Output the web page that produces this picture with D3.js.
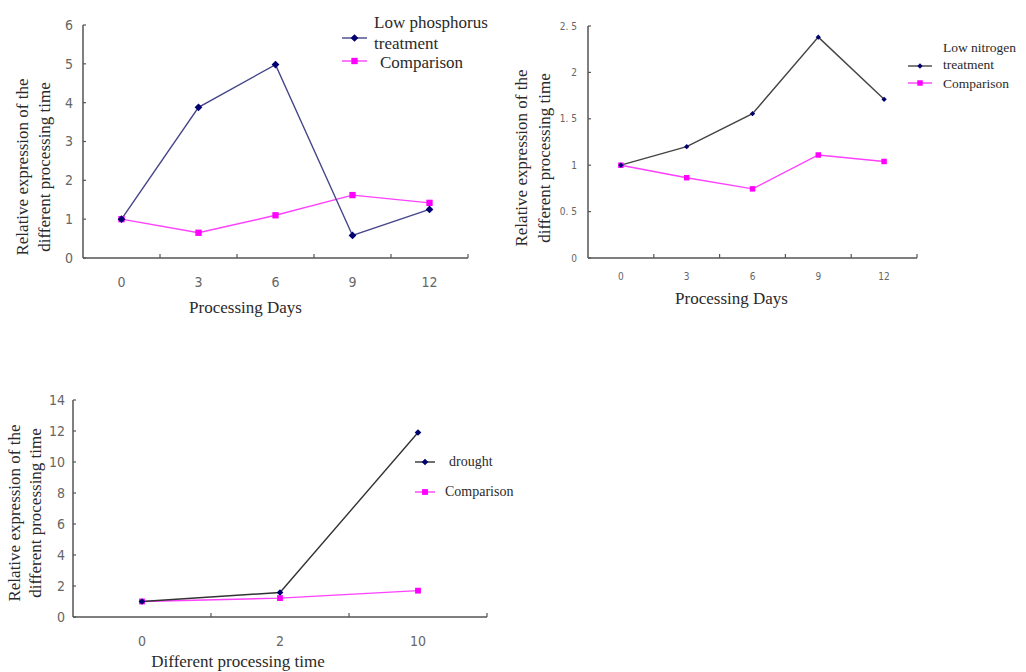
<!DOCTYPE html>
<html>
<head>
<meta charset="utf-8">
<script src="https://cdn.jsdelivr.net/npm/d3@7"></script>
<style>
  body { margin: 0; background: #fff; }
  svg { display: block; }
  .tick-lbl { font-family: "DejaVu Sans Condensed", "Liberation Sans Narrow", sans-serif; fill: #666; }
  .serif { font-family: "Liberation Serif", "DejaVu Serif", serif; fill: #2a2a2a; }
</style>
</head>
<body>
<div id="chart"></div>
<script>
// chart 1: low phosphorus
const daysP = ['0', '3', '6', '9', '12'];
const lowPhosphorus = [1.0, 3.88, 4.98, 0.58, 1.25];
const comparisonP = [1.0, 0.65, 1.1, 1.62, 1.42];
const yTicksP = [0, 1, 2, 3, 4, 5, 6];

// chart 2: low nitrogen
const daysN = ['0', '3', '6', '9', '12'];
const lowNitrogen = [1.0, 1.2, 1.555, 2.38, 1.71];
const comparisonN = [1.0, 0.865, 0.745, 1.11, 1.04];
const yTicksN = [0, 0.5, 1, 1.5, 2, 2.5];

// chart 3: drought
const timesD = ['0', '2', '10'];
const drought = [1.0, 1.58, 11.9];
const comparisonD = [1.0, 1.22, 1.7];
const yTicksD = [0, 2, 4, 6, 8, 10, 12, 14];

const svg = d3.select('#chart').append('svg')
  .attr('width', 1026)
  .attr('height', 672);

// diamond = square turned 45 degrees
const square = d3.symbol().type(d3.symbolSquare);

function drawChart(cfg) {
  const g = svg.append('g');
  const x = d3.scaleBand().domain(cfg.cats).range([cfg.left, cfg.right]);
  const y = d3.scaleLinear().domain([0, d3.max(cfg.yTicks)]).range([cfg.bottom, cfg.top]);

  // y axis
  g.append('line')
    .attr('x1', cfg.left).attr('x2', cfg.left)
    .attr('y1', cfg.top).attr('y2', cfg.bottom)
    .attr('stroke', '#555').attr('stroke-width', 1.5);
  g.selectAll('.ytick').data(cfg.yTicks).enter().append('line')
    .attr('x1', cfg.left).attr('x2', cfg.left + 3)
    .attr('y1', (d) => y(d)).attr('y2', (d) => y(d))
    .attr('stroke', '#555').attr('stroke-width', 1.2);
  g.selectAll('.ylbl').data(cfg.yTicks).enter().append('text')
    .attr('class', 'tick-lbl')
    .attr('x', cfg.left - cfg.yLblGap)
    .attr('y', (d) => y(d))
    .attr('dy', '0.35em')
    .attr('text-anchor', 'end')
    .attr('font-size', cfg.tickSize)
    .text((d) => cfg.fmt ? cfg.fmt(d) : d);

  // x axis, ticks between categories
  g.append('line')
    .attr('x1', cfg.left).attr('x2', cfg.right)
    .attr('y1', cfg.bottom).attr('y2', cfg.bottom)
    .attr('stroke', '#555').attr('stroke-width', 1.5);
  const edges = cfg.cats.slice(1).map((c) => x(c)).concat([cfg.right]);
  g.selectAll('.xtick').data(edges).enter().append('line')
    .attr('x1', (d) => d).attr('x2', (d) => d)
    .attr('y1', cfg.bottom).attr('y2', cfg.bottom - 4)
    .attr('stroke', '#555').attr('stroke-width', 1.2);
  g.selectAll('.xlbl').data(cfg.cats).enter().append('text')
    .attr('class', 'tick-lbl')
    .attr('x', (d) => x(d) + x.bandwidth() / 2)
    .attr('y', cfg.bottom + cfg.xLblGap)
    .attr('text-anchor', 'middle')
    .attr('font-size', cfg.tickSize)
    .text((d) => d);

  // titles
  g.append('text')
    .attr('class', 'serif')
    .attr('x', (cfg.left + cfg.right) / 2 + cfg.xTitleDx)
    .attr('y', cfg.xTitleY)
    .attr('text-anchor', 'middle')
    .attr('font-size', cfg.titleSize)
    .text(cfg.xTitle);
  ['Relative expression of the', 'different processing time'].forEach((t, i) => {
    g.append('text')
      .attr('class', 'serif')
      .attr('transform', `translate(${cfg.yTitleX[i]},${cfg.yTitleY}) rotate(-90)`)
      .attr('text-anchor', 'middle')
      .attr('font-size', cfg.titleSize)
      .text(t);
  });

  const cx = (d, i) => x(cfg.cats[i]) + x.bandwidth() / 2;
  const line = d3.line().x(cx).y((d) => y(d));

  // comparison first, treatment on top
  g.append('path').datum(cfg.comp)
    .attr('d', line).attr('fill', 'none')
    .attr('stroke', '#ff40ff').attr('stroke-width', 1.4);
  g.append('path').datum(cfg.treat)
    .attr('d', line).attr('fill', 'none')
    .attr('stroke', cfg.treatLine).attr('stroke-width', 1.4);
  g.selectAll('.mc').data(cfg.comp).enter().append('path')
    .attr('d', square.size(cfg.sqSize))
    .attr('transform', (d, i) => `translate(${cx(d, i)},${y(d)})`)
    .attr('fill', '#ff00ff');
  g.selectAll('.mt').data(cfg.treat).enter().append('path')
    .attr('d', square.size(cfg.dmSize))
    .attr('transform', (d, i) => `translate(${cx(d, i)},${y(d)}) rotate(45)`)
    .attr('fill', '#000070');

  // legend
  const lg = cfg.legend;
  [[lg.y1, cfg.treatLine, '#000070', cfg.dmSize, 45], [lg.y2, '#ff40ff', '#ff00ff', cfg.sqSize, 0]].forEach(([ly, lc, mc, sz, rot]) => {
    g.append('line')
      .attr('x1', lg.x).attr('x2', lg.x + lg.w)
      .attr('y1', ly).attr('y2', ly)
      .attr('stroke', lc).attr('stroke-width', 1.4);
    g.append('path')
      .attr('d', square.size(sz))
      .attr('transform', `translate(${lg.x + lg.w / 2},${ly}) rotate(${rot})`)
      .attr('fill', mc);
  });
  lg.texts.forEach((t) => {
    g.append('text')
      .attr('class', 'serif')
      .attr('x', t[0]).attr('y', t[1])
      .attr('dy', '0.35em')
      .attr('font-size', lg.size)
      .text(t[2]);
  });
}

drawChart({
  cats: daysP, treat: lowPhosphorus, comp: comparisonP, yTicks: yTicksP,
  left: 83, right: 468, top: 25, bottom: 258,
  tickSize: 14, yLblGap: 10, xLblGap: 29,
  xTitle: 'Processing Days', xTitleY: 313, xTitleDx: -30, titleSize: 17,
  yTitleX: [28, 50], yTitleY: 167,
  treatLine: '#45458a', dmSize: 30, sqSize: 40,
  legend: {
    x: 342, w: 25, y1: 38, y2: 61, size: 17,
    texts: [[374, 22, 'Low phosphorus'], [374, 43, 'treatment'], [380, 62, 'Comparison']]
  }
});

drawChart({
  cats: daysN, treat: lowNitrogen, comp: comparisonN, yTicks: yTicksN,
  left: 588, right: 917, top: 26, bottom: 258,
  tickSize: 10, yLblGap: 11, xLblGap: 22,
  fmt: (d) => String(d).replace('.', '. '),
  xTitle: 'Processing Days', xTitleY: 304, xTitleDx: -21, titleSize: 17,
  yTitleX: [527, 550], yTitleY: 158,
  treatLine: '#444', dmSize: 14, sqSize: 30,
  legend: {
    x: 908, w: 24, y1: 66, y2: 83, size: 13.5,
    texts: [[943, 47, 'Low nitrogen'], [943, 64, 'treatment'], [943, 83, 'Comparison']]
  }
});

drawChart({
  cats: timesD, treat: drought, comp: comparisonD, yTicks: yTicksD,
  left: 73, right: 487, top: 400, bottom: 617,
  tickSize: 14, yLblGap: 8, xLblGap: 29,
  xTitle: 'Different processing time', xTitleY: 667, xTitleDx: -42, titleSize: 17,
  yTitleX: [20, 41], yTitleY: 513,
  treatLine: '#333', dmSize: 22, sqSize: 34,
  legend: {
    x: 415, w: 20, y1: 462, y2: 492, size: 14,
    texts: [[449, 461, 'drought'], [445, 491, 'Comparison']]
  }
});
</script>
</body>
</html>
